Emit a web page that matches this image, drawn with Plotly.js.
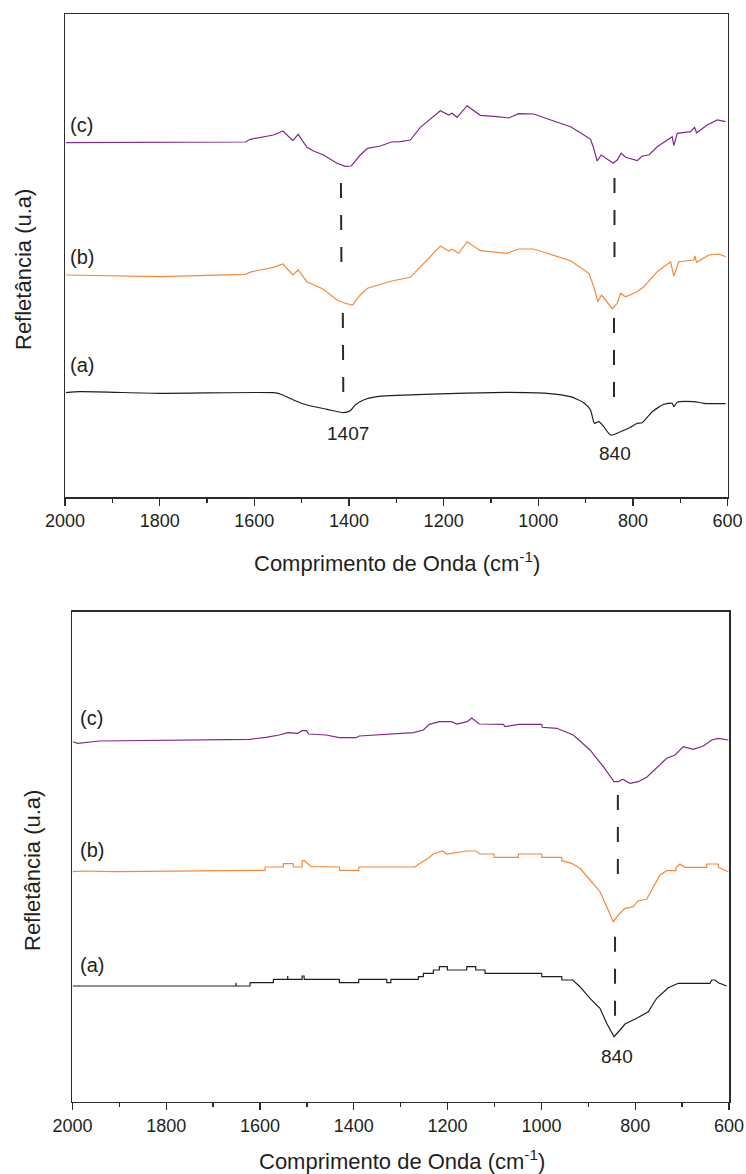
<!DOCTYPE html>
<html>
<head>
<meta charset="utf-8">
<script src="https://cdn.plot.ly/plotly-3.0.1.min.js"></script>
<style>html,body{margin:0;padding:0;background:#fff}#chart{width:746px;height:1174px}</style>
</head>
<body>
<div id="chart"></div>
<script>
// ---------- Data (wavenumber in cm-1, reflectance in arbitrary units) ----------
// Top panel
const topWnC = [1998,1619,1608.7,1587.6,1559.5,1539.6,1518.5,1507.3,1488.9,1474.9,1453.8,1425.4,1407.9,1395.2,1376.1,1360.7,1333.8,1310,1291.5,1270.4,1249.2,1206.9,1189.4,1182.2,1171.6,1150.5,1122.4,1087,1062.5,1041.4,1009.6,981.3,960.2,932,910.9,889.7,884,875.6,867.1,858,841.7,833.3,824.8,815.7,791,780.4,766.4,748.7,724.1,717,713.6,706.4,678.2,669.8,665.6,643,621.8,604.2];
const topValC = [353.3,354,356.7,358.3,361,365,355.3,361.7,348.7,345,341,332.7,329.7,330,341,347.7,350,354,354.3,356,368.7,385.3,381,382.7,378.7,390.3,380.7,379.3,378,382.3,382,377.3,373.7,369.3,363.3,356.7,349.3,335,341,337.7,332.7,336,342.7,338.7,335.3,340,341,349.3,356.7,359.3,350.3,362.7,364.3,368.7,363.3,371,376,374.3];

const topWnB = [1998,1799,1619,1605.2,1559.5,1539.6,1518.5,1507.3,1488.9,1474.9,1453.8,1425.4,1407.9,1392.4,1376.1,1360.7,1310,1270.4,1249.2,1206.9,1189.4,1182.2,1168.2,1150.5,1122.4,1065.9,1041.4,1009.6,981.3,932,893.3,882.7,874.3,866.5,858,843.8,833.3,826.3,815.7,791,777,748.7,720.5,713.6,703,671.3,669.2,665.6,639.5,618.4,604.2];
const topValB = [221,219.3,221.7,224.3,228.7,232,221,226,214.3,211,206.7,196,192.7,191,201,207.7,215,218.7,229.3,250,245,246.7,242.7,254.3,245.3,242.7,247,247,242.7,235.3,222.7,209.3,194.3,201,196,187.3,192.7,202.7,199.3,204.3,209.3,224.3,234.3,220,234.3,236,240,233.7,241,242,239.3];

const topWnA = [1998,1968.3,1799,1559.5,1545.3,1517.2,1488.9,1446.6,1411.4,1397.3,1386.7,1369.2,1340.8,1312.7,1171.6,1065.9,981.3,932,903.9,889.7,881.3,872.2,861.6,847.4,826.3,805.1,791,780.4,759.2,734.7,717,713.6,706.4,671.3,650.1,604.2];
const topValA = [103.3,104.3,102.7,103.3,102,96,91,86.7,83.3,85.3,91,96,99.3,100.3,102.7,103.7,102.7,99.3,93.3,86,72.7,74.3,69.3,61,64.3,68.7,72.7,73.3,84.3,91.7,92.7,89.3,93.7,94.3,92.7,92.3];

// Bottom panel
const botWnC = [1999,1988.7,1942.6,1800.4,1622.8,1587.2,1558.8,1540.9,1519.6,1510.4,1500.4,1496.2,1459.3,1430.9,1395.3,1388.3,1345.6,1322.8,1273.1,1251.8,1239,1217.7,1191.3,1180.6,1158,1148.6,1139.4,1132.4,1081.2,1077.6,1047.8,999.4,998.1,967.4,932,896.4,868,845.2,836,826.7,811.1,793.4,775.5,754.2,732.8,715.1,697.4,676.1,654.8,636.9,622.8,601.5];
const botValC = [360.3,358.7,361,362,362.7,364.7,367,369.3,368.7,371.3,371.3,368,367,364.3,364.3,366,367.3,367.7,369.3,372,377.7,380.3,380.3,378,380.3,384,381,378,377.7,375.3,377.7,377.7,374.7,373.7,367,352,335.3,320.3,320.3,322.7,318.7,320.3,324.7,333.7,343.7,347,355.3,352.7,356,362,363.7,362];

const botWnB = [1999.4,1978,1907,1729.4,1622.8,1589.3,1589,1550.3,1550,1529.6,1529,1510.4,1510,1505,1491.3,1430.9,1430,1389.5,1389,1322.8,1269.5,1258.8,1241.2,1230.5,1210.5,1201.9,1159.3,1139.4,1130.9,1101.1,1100.5,1049.3,1049,999.4,999,956.7,956.5,935.4,917.7,896.4,875.1,860.8,846.7,836,821.7,804.1,793.4,775.5,761.4,747.1,732.8,713,712.7,704.5,693.8,647.6,647.3,622.8,622.5,601.5];
const botValB = [230.3,231,230.3,231,231.7,231.7,235,235,238.3,238.3,235,235,241.3,241.3,235.3,235,231.7,231.7,235,235,235,238.7,243.7,248,251,248,251,251,248,248,244.7,244.7,248,248,244.7,244.7,241.3,238.7,233.7,222,210.3,195.3,180.3,187,193.7,195.3,201.3,202.7,215.3,227,231.3,231.3,234.7,238,234.7,234.7,238,238,234.7,230.3];

const botWnA = [1999.4,1651.2,1651,1650.8,1621.3,1621,1571.6,1571.3,1541,1540.9,1540.7,1510.4,1510.2,1506,1505.8,1430.9,1430.6,1389.5,1389.2,1329.8,1329.6,1321,1320.8,1262.5,1262.3,1251.8,1251.5,1230.5,1230.2,1217.7,1217.4,1200.6,1200.3,1159.3,1159,1140.1,1139.8,1120.3,1120,999.4,999.1,956.7,956.4,933.3,917.7,896.4,875.1,860.8,845.2,832.4,821.7,796.8,782.7,772.1,754.2,729.4,708.1,640.5,636.9,629.8,622.8,604.9];
const botValA = [116,116,119.3,116,116,119.3,119.3,122.7,122.7,126,122.7,122.7,126,126,122.7,122.7,119.3,119.3,122.7,122.7,119.3,119.3,122.7,122.7,125.3,125.3,128.7,128.7,132,132,135.3,135.3,132,132,135.3,135.3,132,132,128.7,128.7,125.3,125.3,122,122,115.3,103.7,93.7,78.7,65.3,72,78,83.7,87,90.3,103.7,114.3,118.7,118.7,122,122,119.3,116];

const seriesLabels = ['(a)', '(b)', '(c)'];
const topPeakLabels = ['1407', '840'];
const botPeakLabels = ['840'];
const xTitle = 'Comprimento de Onda (cm<sup>-1</sup>)';
const yTitle = 'Refletância (u.a)';

// ---------- Styling ----------
const FONT = 'Liberation Sans, Arial, sans-serif';
const TXT = '#231f20';
const AX = '#2b2b2b';
const COL_A = '#1e1e1e', COL_B = '#f5883a', COL_C = '#7e2a86';

function tr(x, y, color, xa, ya) {
  return {x: x, y: y, type: 'scatter', mode: 'lines', xaxis: xa, yaxis: ya,
    line: {color: color, width: 1.2}, hoverinfo: 'skip', showlegend: false};
}
const traces = [
  tr(topWnA, topValA, COL_A, 'x', 'y'),
  tr(topWnB, topValB, COL_B, 'x', 'y'),
  tr(topWnC, topValC, COL_C, 'x', 'y'),
  tr(botWnA, botValA, COL_A, 'x2', 'y2'),
  tr(botWnB, botValB, COL_B, 'x2', 'y2'),
  tr(botWnC, botValC, COL_C, 'x2', 'y2')
];
traces[0].line.shape = 'spline'; traces[0].line.smoothing = 0.6;

function xax(domain, anchor) {
  return {domain: domain, anchor: anchor, range: [2000, 600], autorange: false,
    tick0: 0, dtick: 200, ticks: 'outside', ticklen: 7, tickwidth: 1.3, tickcolor: AX,
    minor: {dtick: 100, tick0: 0, ticks: 'outside', ticklen: 4, tickwidth: 1.3, tickcolor: AX, showgrid: false},
    showline: true, linecolor: AX, linewidth: 1.5, mirror: true,
    showgrid: false, zeroline: false,
    tickfont: {family: FONT, size: 18, color: TXT}, fixedrange: true};
}
function yax(domain, anchor, range) {
  return {domain: domain, anchor: anchor, range: range, autorange: false,
    showticklabels: false, ticks: '', showline: true, linecolor: AX, linewidth: 1.5, mirror: true,
    showgrid: false, zeroline: false, fixedrange: true};
}

function ann(text, x, y, xref, yref, opts) {
  return Object.assign({text: text, x: x, y: y, xref: xref, yref: yref, showarrow: false,
    font: {family: FONT, size: 20, color: TXT}, xanchor: 'center', yanchor: 'middle'}, opts || {});
}

const annotations = [
  // series labels top
  ann(seriesLabels[2], 1993, 371, 'x', 'y', {xanchor: 'left'}),
  ann(seriesLabels[1], 1993, 239.3, 'x', 'y', {xanchor: 'left'}),
  ann(seriesLabels[0], 1993, 131, 'x', 'y', {xanchor: 'left'}),
  // series labels bottom
  ann(seriesLabels[2], 1988.7, 383.7, 'x2', 'y2', {xanchor: 'left'}),
  ann(seriesLabels[1], 1988.7, 252, 'x2', 'y2', {xanchor: 'left'}),
  ann(seriesLabels[0], 1988.7, 137, 'x2', 'y2', {xanchor: 'left'}),
  // peak labels
  ann(topPeakLabels[0], 1401.5, 63, 'x', 'y', {font: {family: FONT, size: 19, color: TXT}}),
  ann(topPeakLabels[1], 837, 43, 'x', 'y', {font: {family: FONT, size: 19, color: TXT}}),
  ann(botPeakLabels[0], 839.4, 45.3, 'x2', 'y2', {font: {family: FONT, size: 19, color: TXT}}),
  // axis titles
  ann(xTitle, 396.5/746, 1 - 562/1174, 'paper', 'paper', {font: {family: FONT, size: 22, color: TXT}}),
  ann(xTitle, 402/746, 1 - 1160/1174, 'paper', 'paper', {font: {family: FONT, size: 22, color: TXT}}),
  ann(yTitle, 23/746, 1 - 270/1174, 'paper', 'paper', {textangle: -90, font: {family: FONT, size: 22, color: TXT}}),
  ann(yTitle, 32/746, 1 - 871/1174, 'paper', 'paper', {textangle: -90, font: {family: FONT, size: 22, color: TXT}})
];

function dl(x0, y0, x1, y1, xref, yref) {
  return {type: 'line', x0: x0, y0: y0, x1: x1, y1: y1, xref: xref, yref: yref,
    line: {color: '#2a2a2a', width: 2, dash: '15px,17px'}};
}
const shapes = [
  dl(1417, 313, 1416, 234, 'x', 'y'),
  dl(1413, 183, 1412, 104, 'x', 'y'),
  dl(839, 318, 839, 238, 'x', 'y'),
  dl(840, 178, 840, 98, 'x', 'y'),
  dl(837, 307, 837, 227, 'x2', 'y2'),
  dl(843, 165.3, 843, 85.3, 'x2', 'y2')
];

const layout = {
  width: 746, height: 1174,
  margin: {l: 0, r: 0, t: 0, b: 0},
  paper_bgcolor: '#fff', plot_bgcolor: '#fff',
  showlegend: false,
  xaxis: xax([65/746, 727.6/746], 'y'),
  yaxis: yax([1 - 497/1174, 1 - 14/1174], 'x', [-1, 482]),
  xaxis2: xax([72.4/746, 729/746], 'y2'),
  yaxis2: yax([1 - 1101.7/1174, 1 - 611.7/1174], 'x2', [0.3, 490.3]),
  annotations: annotations,
  shapes: shapes
};

Plotly.newPlot('chart', traces, layout, {staticPlot: true, displayModeBar: false});
</script>
</body>
</html>
